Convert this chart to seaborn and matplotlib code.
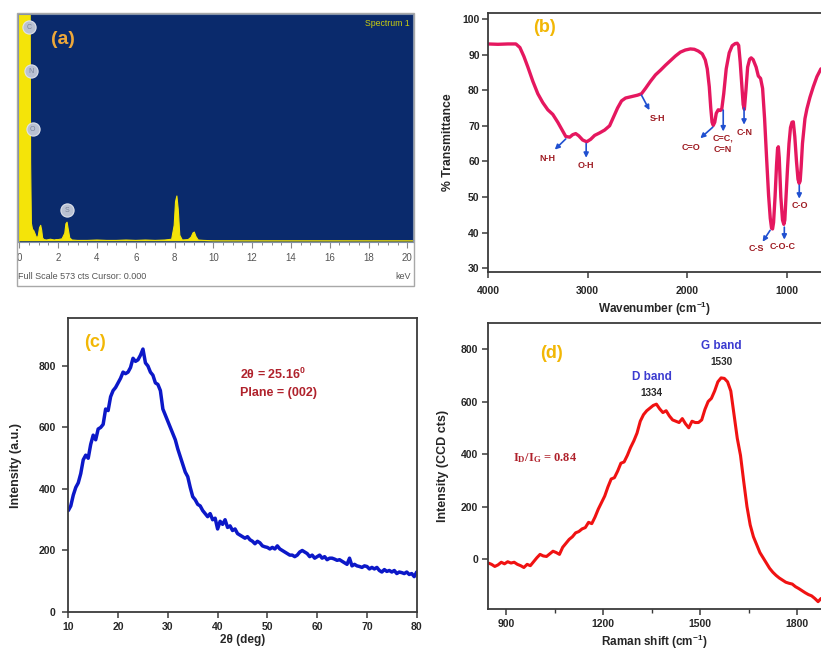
import matplotlib
matplotlib.use("Agg")
import matplotlib.pyplot as plt
from matplotlib.patches import Rectangle
from matplotlib.ticker import MultipleLocator
import seaborn as sns

# ---------------- data ----------------
# (a) EDS spectrum
eds_energy = [0.00, 0.03, 0.08, 0.20, 0.35, 0.48, 0.54, 0.58, 0.62, 0.68, 0.74, 0.80,
              0.86, 0.92, 0.98, 1.04, 1.10, 1.15, 1.20, 1.27, 1.40, 1.60, 1.80, 1.90,
              2.00, 2.20, 2.34, 2.40, 2.46, 2.52, 2.60, 2.72, 3.00, 3.50, 4.00, 4.50,
              5.00, 5.50, 6.00, 6.50, 7.00, 7.50, 7.85, 7.98, 8.05, 8.12, 8.19, 8.27,
              8.40, 8.70, 8.85, 8.95, 9.02, 9.10, 9.22, 9.50, 10.0, 12.0, 14.0, 16.0,
              18.0, 20.3]
eds_counts = [0, 1800, 2400, 2600, 2500, 2000, 900, 200, 45, 30, 27, 20,
              12, 8, 15, 34, 40, 28, 8, 4, 3, 5, 3, 4,
              4, 6, 20, 44, 48, 30, 8, 3, 2, 2, 3, 2,
              2, 3, 2, 3, 2, 3, 5, 40, 100, 114, 80, 15,
              3, 4, 10, 21, 23, 12, 3, 2, 1, 1, 1, 1,
              1, 1]
eds_elements = ["C", "N", "O", "S"]
eds_elem_energy = [0.48, 0.62, 0.69, 2.46]
eds_elem_counts = [540, 428, 282, 78]
eds_ticks = [0, 2, 4, 6, 8, 10, 12, 14, 16, 18, 20]

# (b) FTIR
ftir_wavenumber = [4000, 3900, 3800, 3720, 3680, 3640, 3600, 3550, 3500, 3450, 3400, 3350,
                   3300, 3250, 3220, 3180, 3150, 3120, 3090, 3050, 3010, 2970, 2930, 2880,
                   2830, 2780, 2740, 2700, 2660, 2620, 2560, 2500, 2460, 2420, 2370, 2320,
                   2270, 2220, 2170, 2120, 2070, 2020, 1970, 1930, 1890, 1850, 1820, 1800,
                   1780, 1765, 1752, 1740, 1725, 1710, 1690, 1670, 1655, 1635, 1610, 1580,
                   1550, 1520, 1500, 1485, 1470, 1455, 1440, 1428, 1412, 1395, 1375, 1360,
                   1340, 1310, 1288, 1265, 1245, 1225, 1205, 1185, 1168, 1155, 1145, 1135,
                   1120, 1105, 1095, 1087, 1078, 1062, 1045, 1032, 1022, 1010, 995, 980,
                   965, 950, 937, 922, 905, 890, 878, 868, 858, 845, 820, 800,
                   770, 736, 700, 660]
ftir_transmittance = [93.0, 92.9, 93.0, 93.0, 92.0, 89.5, 86.5, 82.5, 79.0, 76.5, 74.5, 73.2,
                      71.0, 68.5, 67.0, 66.8, 67.5, 67.8, 67.2, 66.0, 65.5, 66.2, 67.3, 68.0,
                      68.8, 70.0, 72.5, 75.0, 77.0, 77.8, 78.2, 78.6, 79.0, 80.5, 82.5, 84.3,
                      85.6, 87.0, 88.3, 89.6, 90.7, 91.3, 91.6, 91.5, 91.0, 90.2, 88.5, 86.0,
                      81.0, 75.0, 71.0, 70.1, 71.0, 73.5, 74.5, 74.3, 74.6, 79.0, 86.0, 90.5,
                      92.5, 93.1, 93.2, 92.6, 88.0, 82.0, 76.0, 74.6, 80.0, 86.5, 88.7, 89.1,
                      88.6, 86.5, 84.0, 83.3, 80.5, 72.0, 61.0, 50.5, 44.0, 41.2, 41.0, 42.8,
                      50.0, 59.0, 63.5, 64.1, 61.0, 50.0, 43.5, 42.3, 43.5, 50.0, 58.0, 65.0,
                      69.5, 71.0, 71.1, 67.0, 60.0, 55.0, 53.8, 54.5, 58.5, 65.0, 72.0, 74.8,
                      78.0, 81.0, 83.8, 86.0]
ftir_labels = ["N-H", "O-H", "S-H", "C=O", "C=C,\nC=N", "C-N", "C-S", "C-O-C", "C-O"]
ftir_label_x = [3400, 3020, 2300, 1966, 1640, 1421, 1311, 1043, 870]
ftir_label_y = [60.9, 58.7, 72.1, 63.8, 64.9, 68.0, 35.5, 36.2, 47.7]
ftir_arrow_tail_x = [3220, 3015, 2460, 1745, 1640, 1431, 1170, 1027, 877]
ftir_arrow_tail_y = [66.3, 65.0, 78.6, 69.6, 74.4, 75.0, 40.6, 41.5, 53.3]
ftir_arrow_head_x = [3330, 3015, 2380, 1870, 1640, 1431, 1245, 1027, 877]
ftir_arrow_head_y = [63.3, 61.0, 74.4, 66.5, 68.4, 70.3, 37.4, 38.0, 49.5]
ftir_xticks = [4000, 3000, 2000, 1000]
ftir_yticks = [30, 40, 50, 60, 70, 80, 90, 100]

# (c) XRD
xrd_2theta = [10.0, 10.5, 11.0, 11.5, 12.0, 12.5, 13.0, 13.5, 14.0, 14.5, 15.0, 15.5, 16.0, 16.5,
              17.0, 17.5, 18.0, 18.5, 19.0, 19.5, 20.0, 20.5, 21.0, 21.5, 22.0, 22.5, 23.0, 23.5,
              24.0, 24.5, 25.0, 25.5, 26.0, 26.5, 27.0, 27.5, 28.0, 28.5, 29.0, 29.5, 30.0, 30.5,
              31.0, 31.5, 32.0, 32.5, 33.0, 33.5, 34.0, 34.5, 35.0, 35.5, 36.0, 36.5, 37.0, 37.5,
              38.0, 38.5, 39.0, 39.5, 40.0, 40.5, 41.0, 41.5, 42.0, 42.5, 43.0, 43.5, 44.0, 44.5,
              45.0, 45.5, 46.0, 46.5, 47.0, 47.5, 48.0, 48.5, 49.0, 49.5, 50.0, 50.5, 51.0, 51.5,
              52.0, 52.5, 53.0, 53.5, 54.0, 54.5, 55.0, 55.5, 56.0, 56.5, 57.0, 57.5, 58.0, 58.5,
              59.0, 59.5, 60.0, 60.5, 61.0, 61.5, 62.0, 62.5, 63.0, 63.5, 64.0, 64.5, 65.0, 65.5,
              66.0, 66.5, 67.0, 67.5, 68.0, 68.5, 69.0, 69.5, 70.0, 70.5, 71.0, 71.5, 72.0, 72.5,
              73.0, 73.5, 74.0, 74.5, 75.0, 75.5, 76.0, 76.5, 77.0, 77.5, 78.0, 78.5, 79.0, 79.5,
              80.0]
xrd_intensity = [330, 345, 380, 405, 420, 450, 495, 510, 500, 545, 575, 560, 595, 600,
                 610, 660, 655, 700, 720, 730, 745, 760, 780, 775, 780, 795, 825, 815,
                 820, 835, 855, 810, 800, 780, 770, 745, 740, 720, 660, 640, 620, 600,
                 580, 560, 530, 505, 480, 455, 440, 405, 375, 365, 350, 345, 330, 320,
                 310, 320, 300, 305, 270, 295, 285, 300, 275, 280, 265, 270, 255, 250,
                 245, 240, 245, 235, 230, 222, 230, 225, 215, 212, 210, 205, 210, 205,
                 215, 205, 200, 195, 190, 185, 185, 180, 185, 195, 200, 195, 190, 180,
                 185, 175, 180, 185, 175, 180, 170, 175, 175, 172, 168, 170, 165, 160,
                 155, 175, 150, 155, 150, 148, 145, 150, 148, 140, 145, 140, 145, 135,
                 130, 138, 132, 135, 130, 135, 125, 130, 128, 125, 130, 122, 125, 115,
                 130]
xrd_xticks = [10, 20, 30, 40, 50, 60, 70, 80]
xrd_yticks = [0, 200, 400, 600, 800]

# (d) Raman
raman_shift = [845, 855, 865, 875, 885, 895, 905, 915, 925, 935, 945, 955, 965, 975, 985, 995,
               1005, 1015, 1025, 1035, 1045, 1055, 1065, 1075, 1085, 1095, 1105, 1115, 1125,
               1135, 1145, 1155, 1165, 1175, 1185, 1195, 1205, 1215, 1225, 1235, 1245, 1255,
               1265, 1275, 1285, 1295, 1305, 1315, 1325, 1335, 1345, 1355, 1365, 1375, 1385,
               1395, 1405, 1415, 1425, 1435, 1445, 1455, 1465, 1475, 1485, 1495, 1505, 1515,
               1525, 1535, 1545, 1555, 1565, 1575, 1585, 1595, 1605, 1615, 1625, 1635, 1645,
               1655, 1665, 1675, 1685, 1695, 1705, 1715, 1725, 1735, 1745, 1755, 1765, 1775,
               1785, 1795, 1805, 1815, 1825, 1835, 1845, 1855, 1865, 1874]
raman_intensity = [-15, -20, -28, -22, -12, -18, -10, -15, -12, -20, -25, -32, -20, -25, -10, 5,
                   18, 12, 10, 20, 30, 25, 18, 45, 60, 75, 85, 100, 105,
                   115, 120, 140, 135, 160, 190, 215, 240, 275, 305, 310, 335, 365,
                   370, 395, 425, 450, 480, 525, 550, 565, 575, 585, 590, 572, 558,
                   565, 545, 530, 525, 520, 535, 515, 500, 525, 520, 520, 530, 570,
                   600, 612, 640, 675, 690, 688, 675, 640, 550, 460, 395, 295, 200,
                   130, 85, 55, 25, 5, -15, -35, -50, -62, -72, -80, -88, -92,
                   -95, -105, -112, -120, -128, -135, -140, -150, -162, -150]
raman_xticks = [900, 1200, 1500, 1800]
raman_yticks = [0, 200, 400, 600, 800]
raman_band_names = ["D band", "G band"]
raman_band_values = ["1334", "1530"]
raman_band_x = [1351, 1567]
raman_band_name_y = [694, 813]
raman_band_value_y = [631, 750]

# ---------------- style ----------------
sns.set_theme(style="ticks")
plt.rcParams['font.family'] = ['Liberation Sans', 'DejaVu Sans']
plt.rcParams['font.weight'] = 'bold'
plt.rcParams['axes.labelweight'] = 'bold'
plt.rcParams['mathtext.default'] = 'regular'

W, H = 821, 656
fig = plt.figure(figsize=(W / 100, H / 100), dpi=100)


def add_axes_px(l, t, r, b):
    return fig.add_axes([l / W, 1 - b / H, (r - l) / W, (b - t) / H])


SPINE = '#3a3a3a'
GOLD = '#f2b705'
TICK_FS = 7.5

# ---------------- (a) EDS ----------------
axA = add_axes_px(18, 14, 413, 242)
axA.set_facecolor('#0a2a6c')
yellow = '#f4e409'
axA.fill_between(eds_energy, eds_counts, color=yellow, lw=0)
sns.lineplot(x=eds_energy, y=eds_counts, ax=axA, color=yellow, linewidth=0.8,
             estimator=None, sort=False)
axA.set_xlim(-0.07, 20.29)
axA.set_ylim(-2, 573)
axA.set_yticks([])
axA.set_xticks(eds_ticks, labels=[str(t) for t in eds_ticks], fontweight='normal',
               color='#555555', fontsize=7)
axA.xaxis.set_minor_locator(MultipleLocator(0.5))
axA.tick_params(axis='x', which='major', length=4, width=0.8, color='#8a8a8a', pad=4)
axA.tick_params(axis='x', which='minor', length=2.5, width=0.7, color='#8a8a8a')
for s in axA.spines.values():
    s.set_color('#8090a8')
    s.set_linewidth(0.8)
axA.set_xlabel('')
axA.set_ylabel('')
axA.scatter(eds_elem_energy, eds_elem_counts, s=90, c='#b9c1d2', edgecolors='#dfe3ec',
            linewidths=0.8, zorder=5, clip_on=False)
for el, ex, ey in zip(eds_elements, eds_elem_energy, eds_elem_counts):
    axA.text(ex, ey, el, ha='center', va='center', fontsize=5, color='#7a849a',
             fontweight='normal', zorder=6)
axA.text(0.113, 0.89, '(a)', transform=axA.transAxes, ha='center', va='center',
         fontsize=14, color='#eea83a', fontweight='bold')
axA.text(0.992, 0.96, 'Spectrum 1', transform=axA.transAxes, ha='right', va='center',
         fontsize=6.3, color='#c8cc10', fontweight='normal')
axA.text(0.0, -0.15, 'Full Scale 573 cts Cursor: 0.000', transform=axA.transAxes,
         ha='left', va='center', fontsize=6.5, color='#555555', fontweight='normal')
axA.text(0.995, -0.15, 'keV', transform=axA.transAxes, ha='right', va='center',
         fontsize=6.5, color='#555555', fontweight='normal')
fig.add_artist(Rectangle((17 / W, 1 - 286 / H), 397 / W, 273 / H, transform=fig.transFigure,
                         fill=False, ec='#a8a8a8', lw=1.0))

# ---------------- (b) FTIR ----------------
axB = add_axes_px(488, 13, 821, 272)
sns.lineplot(x=ftir_wavenumber, y=ftir_transmittance, ax=axB, color='#e5175f',
             linewidth=2.4, estimator=None, sort=False)
axB.set_xlim(4000, 659)
axB.set_ylim(28.9, 101.7)
axB.set_xticks(ftir_xticks)
axB.set_yticks(ftir_yticks)
axB.set_xlabel('Wavenumber (cm$^{-1}$)', fontsize=8.5, fontweight='bold')
axB.set_ylabel('% Transmittance', fontsize=8.8, fontweight='bold')
axB.xaxis.set_label_coords(0.5, -0.108)
axB.yaxis.set_label_coords(-0.102, 0.5)
axB.tick_params(axis='x', direction='out', length=4, width=1.1, color=SPINE, labelsize=TICK_FS, pad=6)
axB.tick_params(axis='y', direction='out', length=4, width=1.1, color=SPINE, labelsize=TICK_FS, pad=2)
axB.spines['right'].set_visible(False)
for k in ['left', 'top', 'bottom']:
    axB.spines[k].set_color(SPINE)
    axB.spines[k].set_linewidth(1.3)
for lab, lx, ly in zip(ftir_labels, ftir_label_x, ftir_label_y):
    axB.text(lx, ly, lab, ha='center', va='center', fontsize=6.5, color='#9e1b22',
             fontweight='bold', linespacing=1.3)
for tx, ty, hx, hy in zip(ftir_arrow_tail_x, ftir_arrow_tail_y, ftir_arrow_head_x, ftir_arrow_head_y):
    axB.annotate('', xy=(hx, hy), xytext=(tx, ty),
                 arrowprops=dict(arrowstyle='-|>', color='#2050d0', lw=1.2, mutation_scale=7,
                                 shrinkA=0, shrinkB=0))
axB.text(0.171, 0.944, '(b)', transform=axB.transAxes, ha='center', va='center',
         fontsize=13, color=GOLD, fontweight='bold')

# ---------------- (c) XRD ----------------
axC = add_axes_px(68.3, 318, 416.7, 612)
sns.lineplot(x=xrd_2theta, y=xrd_intensity, ax=axC, color='#0c18c8', linewidth=2.5,
             estimator=None, sort=False)
axC.set_xlim(10, 80)
axC.set_ylim(0, 956)
axC.set_xticks(xrd_xticks)
axC.set_yticks(xrd_yticks)
axC.set_xlabel('2θ (deg)', fontsize=8.5, fontweight='bold')
axC.set_ylabel('Intensity (a.u.)', fontsize=9, fontweight='bold')
axC.xaxis.set_label_coords(0.5, -0.075)
axC.yaxis.set_label_coords(-0.133, 0.5)
axC.tick_params(axis='both', direction='out', length=4, width=1.1, color=SPINE, labelsize=TICK_FS)
axC.tick_params(axis='y', pad=5)
for s in axC.spines.values():
    s.set_color(SPINE)
    s.set_linewidth(1.3)
axC.text(44.5, 771, '2θ = 25.16$^0$', ha='left', va='center', fontsize=9,
         color='#b0222c', fontweight='bold')
axC.text(44.5, 713, 'Plane = (002)', ha='left', va='center', fontsize=9,
         color='#b0222c', fontweight='bold')
axC.text(0.077, 0.915, '(c)', transform=axC.transAxes, ha='center', va='center',
         fontsize=13, color=GOLD, fontweight='bold')

# ---------------- (d) Raman ----------------
axD = add_axes_px(488, 323, 821, 609)
sns.lineplot(x=raman_shift, y=raman_intensity, ax=axD, color='#f01212', linewidth=2.2,
             estimator=None, sort=False)
axD.set_xlim(844, 1874)
axD.set_ylim(-190, 899)
axD.set_xticks(raman_xticks)
axD.set_yticks(raman_yticks)
axD.xaxis.set_minor_locator(MultipleLocator(150))
axD.set_xlabel('Raman shift (cm$^{-1}$)', fontsize=8.5, fontweight='bold')
axD.set_ylabel('Intensity (CCD cts)', fontsize=9, fontweight='bold')
axD.xaxis.set_label_coords(0.5, -0.084)
axD.yaxis.set_label_coords(-0.117, 0.5)
axD.tick_params(axis='both', which='major', direction='out', length=4, width=1.1,
                color=SPINE, labelsize=TICK_FS, pad=3)
axD.tick_params(axis='x', which='minor', direction='out', length=3, width=1.0, color=SPINE)
axD.spines['right'].set_visible(False)
for k in ['left', 'top', 'bottom']:
    axD.spines[k].set_color(SPINE)
    axD.spines[k].set_linewidth(1.3)
for nm, val, bx, ny, vy in zip(raman_band_names, raman_band_values, raman_band_x,
                               raman_band_name_y, raman_band_value_y):
    axD.text(bx, ny, nm, ha='center', va='center', fontsize=8.5, color='#3c3cd0', fontweight='bold')
    axD.text(bx, vy, val, ha='center', va='center', fontsize=7.2, color='#2a2a2a', fontweight='bold')
axD.text(1021, 384, 'I$_D$/I$_G$ = 0.84', ha='center', va='center', fontsize=9,
         color='#b0222c', fontweight='bold', family=['Liberation Serif', 'DejaVu Serif'])
axD.text(0.192, 0.892, '(d)', transform=axD.transAxes, ha='center', va='center',
         fontsize=13, color=GOLD, fontweight='bold')

fig.savefig('out.png', dpi=100)
